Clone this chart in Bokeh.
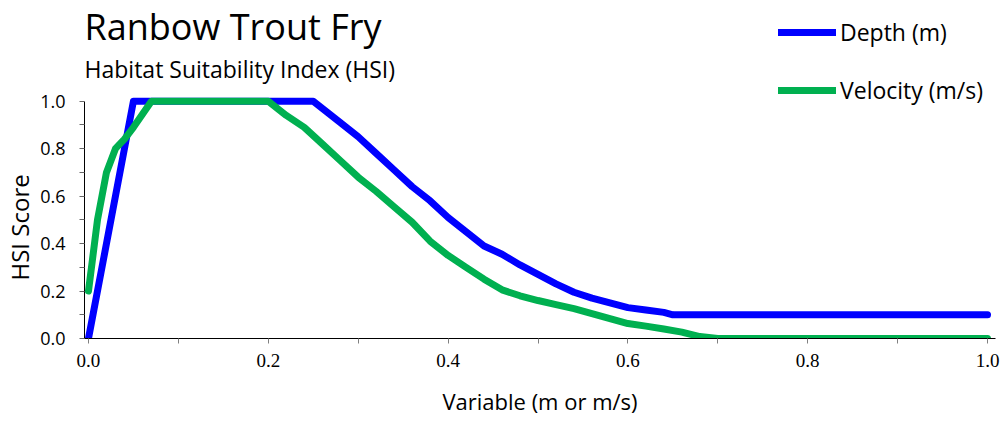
from bokeh.plotting import figure
from bokeh.models import FixedTicker, PrintfTickFormatter, Label, Range1d, Title
from bokeh.embed import file_html
from bokeh.resources import INLINE

# ---- data ----
title_text = "Ranbow Trout Fry"
subtitle_text = "Habitat Suitability Index (HSI)"
x_label = "Variable (m or m/s)"
y_label = "HSI Score"

depth_x = [0.0, 0.05, 0.25, 0.28, 0.30, 0.32, 0.34, 0.36, 0.38, 0.40, 0.42, 0.44, 0.46,
           0.48, 0.50, 0.52, 0.54, 0.56, 0.58, 0.60, 0.62, 0.64, 0.65, 1.0]
depth_y = [0.0, 1.0, 1.0, 0.91, 0.85, 0.78, 0.71, 0.64, 0.58, 0.51, 0.45, 0.39, 0.355,
           0.31, 0.27, 0.23, 0.195, 0.17, 0.15, 0.13, 0.12, 0.11, 0.10, 0.10]

velocity_x = [0.0, 0.01, 0.02, 0.03, 0.04, 0.05, 0.06, 0.07, 0.20, 0.22, 0.24, 0.26, 0.28,
              0.30, 0.32, 0.34, 0.36, 0.38, 0.40, 0.42, 0.44, 0.46, 0.48, 0.50, 0.52,
              0.54, 0.56, 0.58, 0.60, 0.62, 0.64, 0.66, 0.68, 0.70, 1.0]
velocity_y = [0.20, 0.50, 0.70, 0.80, 0.84, 0.89, 0.945, 1.0, 1.0, 0.94, 0.89, 0.82, 0.75,
              0.68, 0.62, 0.555, 0.49, 0.41, 0.35, 0.30, 0.25, 0.205, 0.18, 0.16, 0.143,
              0.126, 0.105, 0.084, 0.063, 0.052, 0.04, 0.027, 0.008, 0.0, 0.0]

x_major = [0.0, 0.2, 0.4, 0.6, 0.8, 1.0]
x_minor = [0.1, 0.3, 0.5, 0.7, 0.9]
y_major = [0.0, 0.2, 0.4, 0.6, 0.8, 1.0]
y_minor = [0.1, 0.3, 0.5, 0.7, 0.9]

SANS = "Open Sans"
SERIF = "Liberation Serif"

p = figure(width=1000, height=421, output_backend="svg", toolbar_location=None,
           x_range=Range1d(-0.004435, 1.00887), y_range=Range1d(0.0, 1.42016),
           min_border_left=81, min_border_right=5, min_border_top=1, min_border_bottom=83)
p.outline_line_color = None
p.grid.visible = False
p.background_fill_color = "white"
p.border_fill_color = "white"

p.line(depth_x, depth_y, line_color="#0000FF", line_width=7, line_join="round",
       line_cap="round", legend_label="Depth (m)")
p.line(velocity_x, velocity_y, line_color="#00B050", line_width=7, line_join="round",
       line_cap="round", legend_label="Velocity (m/s)")

# x axis
xa = p.xaxis[0]
xa.ticker = FixedTicker(ticks=x_major, minor_ticks=x_minor)
xa.formatter = PrintfTickFormatter(format="%.1f")
xa.axis_line_color = "black"
xa.major_tick_in = 0
xa.major_tick_out = 5
xa.minor_tick_in = 0
xa.minor_tick_out = 5
xa.major_tick_line_color = "#808080"
xa.minor_tick_line_color = "#808080"
xa.major_label_text_font = SERIF
xa.major_label_text_font_size = "19px"
xa.major_label_text_color = "black"
xa.major_label_standoff = 10
xa.axis_label = x_label
xa.axis_label_text_font = SANS
xa.axis_label_text_font_style = "normal"
xa.axis_label_text_font_size = "22px"
xa.axis_label_text_color = "black"
xa.axis_label_standoff = 16

# y axis
ya = p.yaxis[0]
ya.bounds = (0, 1)
ya.ticker = FixedTicker(ticks=y_major, minor_ticks=y_minor)
ya.formatter = PrintfTickFormatter(format="%.1f")
ya.axis_line_color = "black"
ya.major_tick_in = 0
ya.major_tick_out = 5
ya.minor_tick_in = 0
ya.minor_tick_out = 5
ya.major_tick_line_color = "#666666"
ya.minor_tick_line_color = "#666666"
ya.major_label_text_font = SANS
ya.major_label_text_font_size = "18px"
ya.major_label_text_color = "black"
ya.major_label_standoff = 14

# y axis title (placed in the left panel, positioned along the axis)
p.add_layout(Title(text=y_label, align="left", offset=58, vertical_align="middle",
                   standoff=2, text_font=SANS, text_font_size="24px",
                   text_font_style="normal", text_color="black"), "left")

# chart titles
p.add_layout(Label(x=-0.0044, y=1.3148, text=title_text, text_font=SANS,
                   text_font_size="36px", text_baseline="middle", text_align="left",
                   text_color="black"))
p.add_layout(Label(x=-0.0044, y=1.1357, text=subtitle_text, text_font=SANS,
                   text_font_size="23px", text_baseline="middle", text_align="left",
                   text_color="black"))

# legend
lg = p.legend[0]
lg.location = (694, 232)
lg.orientation = "vertical"
lg.background_fill_alpha = 0
lg.border_line_alpha = 0
lg.padding = 0
lg.margin = 0
lg.glyph_width = 58
lg.glyph_height = 20
lg.label_height = 20
lg.spacing = 26
lg.label_standoff = 4
lg.label_text_font = SANS
lg.label_text_font_size = "23px"
lg.label_text_color = "black"

open("out.html", "w").write(file_html(p, INLINE))
